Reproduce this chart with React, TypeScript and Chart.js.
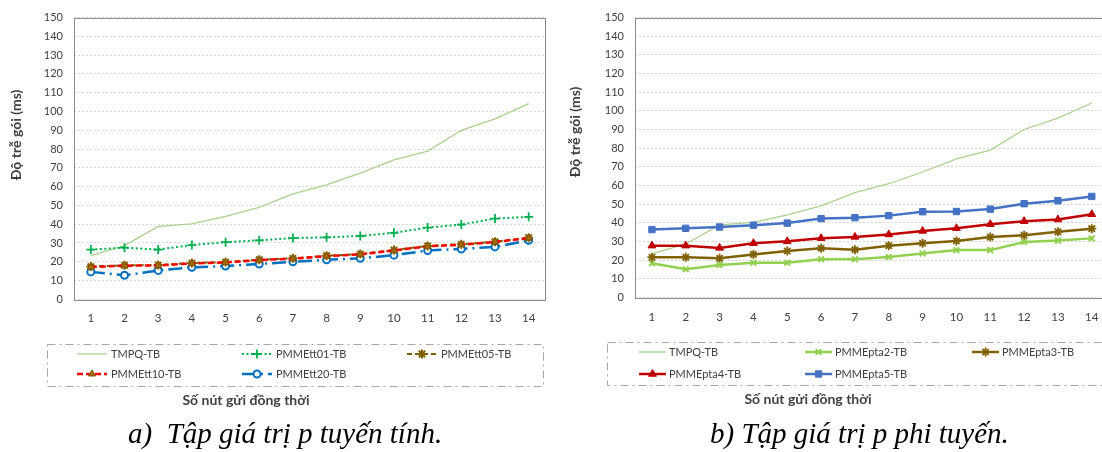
import React, { useEffect, useRef } from 'react';
import { Chart, registerables } from 'chart.js';
import { drawPoint } from 'chart.js/helpers';

Chart.register(...registerables);

// ---------- DATA ----------
const categories = ['1', '2', '3', '4', '5', '6', '7', '8', '9', '10', '11', '12', '13', '14'];
const yMin = 0;
const yMax = 150;
const yStep = 10;

const tmpqTB = [23.3, 28.6, 38.8, 40.2, 44.2, 49.0, 56.1, 60.9, 67.2, 74.2, 78.9, 90.0, 96.1, 104.2];

const pmmett01TB = [26.5, 27.5, 26.5, 28.9, 30.4, 31.4, 32.6, 33.0, 33.7, 35.4, 38.2, 39.8, 43.0, 43.9];
const pmmett05TB = [17.4, 18.1, 18.2, 19.3, 19.8, 21.1, 21.8, 23.2, 24.1, 26.2, 28.4, 29.3, 30.7, 32.8];
const pmmett10TB = [17.2, 17.9, 18.0, 19.1, 19.6, 20.9, 21.6, 23.0, 23.9, 26.0, 28.2, 29.1, 30.5, 32.6];
const pmmett20TB = [14.6, 12.8, 15.4, 17.0, 17.7, 18.8, 20.0, 21.0, 21.8, 23.5, 26.0, 26.8, 27.9, 31.4];

const pmmepta2TB = [18.3, 15.0, 17.3, 18.5, 18.5, 20.4, 20.4, 21.6, 23.5, 25.3, 25.3, 29.7, 30.4, 31.6];
const pmmepta3TB = [21.5, 21.5, 20.9, 23.0, 24.8, 26.3, 25.5, 27.7, 29.0, 30.2, 32.3, 33.3, 35.1, 36.8];
const pmmepta4TB = [27.7, 27.7, 26.5, 29.0, 30.0, 31.7, 32.4, 33.7, 35.6, 37.0, 39.2, 40.8, 41.7, 44.5];
const pmmepta5TB = [36.3, 37.0, 37.7, 38.7, 39.8, 42.2, 42.7, 43.8, 45.9, 46.0, 47.3, 50.2, 51.8, 54.1];

const labelsA = ['TMPQ-TB', 'PMMEtt01-TB', 'PMMEtt05-TB', 'PMMEtt10-TB', 'PMMEtt20-TB'];
const labelsB = ['TMPQ-TB', 'PMMEpta2-TB', 'PMMEpta3-TB', 'PMMEpta4-TB', 'PMMEpta5-TB'];

const yAxisTitle = 'Độ trễ gói (ms)';
const xAxisTitle = 'Số nút gửi đồng thời';
const captionA = 'a)  Tập giá trị p tuyến tính.';
const captionB = 'b) Tập giá trị p phi tuyến.';

// ---------- STYLES ----------
const TEXT = '#404040';
const FONT = 'Lato, "Open Sans", sans-serif';

function ds(label: string, data: number[], s: any) {
  return {
    label,
    data,
    borderColor: s.color,
    backgroundColor: s.color,
    borderWidth: s.width,
    borderDash: s.dash || [],
    pointStyle: s.point || 'circle',
    pointRadius: s.radius || 0,
    pointHoverRadius: s.radius || 0,
    pointBackgroundColor: s.pointBg || s.color,
    pointBorderColor: s.pointBorder || s.color,
    pointBorderWidth: s.pointBorderWidth || 1,
    tension: 0,
    fill: false,
    order: s.order ?? 0,
  };
}

const decorPlugin = {
  id: 'decor',
  beforeDatasetsDraw(chart: any) {
    const ctx = chart.ctx;
    const a = chart.chartArea;
    ctx.save();
    ctx.strokeStyle = '#8c8c8c';
    ctx.lineWidth = 1;
    ctx.setLineDash([]);
    ctx.strokeRect(Math.round(a.left) + 0.5, Math.round(a.top) + 0.5, Math.round(a.right - a.left) - 1, Math.round(a.bottom - a.top));
    ctx.restore();
  },
  afterDraw(chart: any, _args: any, o: any) {
    const ctx = chart.ctx;
    ctx.save();
    // y title
    ctx.font = `bold 14px ${FONT}`;
    ctx.fillStyle = TEXT;
    ctx.textAlign = 'center';
    ctx.textBaseline = 'middle';
    ctx.save();
    ctx.translate(o.yTitle.x, o.yTitle.y);
    ctx.rotate(-Math.PI / 2);
    ctx.fillText(yAxisTitle, 0, 0);
    ctx.restore();
    // x title
    ctx.fillText(xAxisTitle, o.xTitle.x, o.xTitle.y);
    // legend box
    ctx.strokeStyle = '#a6a6a6';
    ctx.lineWidth = 1;
    ctx.setLineDash([8, 4, 2, 4]);
    ctx.strokeRect(o.box.x + 0.5, o.box.y + 0.5, o.box.w, o.box.h);
    // legend items
    const dsets = chart.data.datasets;
    o.items.forEach((it: any, i: number) => {
      const d = dsets[i];
      const x0 = it.x;
      const x1 = it.x + o.sampleLen;
      ctx.save();
      ctx.strokeStyle = d.borderColor;
      ctx.lineWidth = d.borderWidth;
      ctx.setLineDash(d.borderDash || []);
      ctx.beginPath();
      ctx.moveTo(x0, it.y);
      ctx.lineTo(x1, it.y);
      ctx.stroke();
      if (d.pointRadius > 0) {
        ctx.setLineDash([]);
        ctx.fillStyle = d.pointBackgroundColor;
        ctx.strokeStyle = d.pointBorderColor;
        ctx.lineWidth = d.pointBorderWidth;
        drawPoint(ctx, { pointStyle: d.pointStyle, radius: d.pointRadius, borderWidth: d.pointBorderWidth, rotation: 0 } as any, (x0 + x1) / 2, it.y);
      }
      ctx.restore();
      ctx.font = `11px ${FONT}`;
      ctx.fillStyle = TEXT;
      ctx.textAlign = 'left';
      ctx.textBaseline = 'middle';
      ctx.fillText(d.label, x1 + o.gap, it.y);
    });
    ctx.restore();
  },
};

function Panel(props: any) {
  const ref = useRef<HTMLCanvasElement>(null);
  useEffect(() => {
    const { datasets, decor, padTop, padRight, plotLeft, plotBottom, tickPadX } = props;
    const chart = new Chart(ref.current as HTMLCanvasElement, {
      type: 'line',
      data: { labels: categories, datasets },
      options: {
        animation: false,
        responsive: true,
        maintainAspectRatio: false,
        layout: { padding: { top: padTop, right: padRight, bottom: 0, left: 0 } },
        plugins: { legend: { display: false }, tooltip: { enabled: false }, decor } as any,
        scales: {
          x: {
            type: 'category',
            offset: true,
            grid: { display: false, drawTicks: false },
            border: { display: false },
            ticks: { color: TEXT, font: { family: FONT, size: 11.5 }, padding: tickPadX, maxRotation: 0, autoSkip: false },
            afterFit: (s: any) => { s.height = 452 - plotBottom; },
          },
          y: {
            min: yMin,
            max: yMax,
            grid: { color: '#d9d9d9', drawTicks: false, lineWidth: 1 },
            border: { display: false, dash: [2, 2] },
            ticks: { stepSize: yStep, color: TEXT, font: { family: FONT, size: 11 }, padding: 11 },
            afterFit: (s: any) => { s.width = plotLeft; },
          },
        },
      } as any,
      plugins: [decorPlugin as any],
    });
    return () => chart.destroy();
  }, []);
  return (
    <div style={{ position: 'absolute', left: props.left, top: 0, width: props.width, height: 452 }}>
      <canvas ref={ref} />
    </div>
  );
}

export default function App() {
  const datasetsA = [
    ds(labelsA[0], tmpqTB, { color: '#a9d18e', width: 1.3, order: 5 }),
    ds(labelsA[1], pmmett01TB, { color: '#00b050', width: 2, dash: [2, 2.5], point: 'cross', radius: 4.5, pointBorderWidth: 1.8, order: 4 }),
    ds(labelsA[2], pmmett05TB, { color: '#7f6000', width: 2, dash: [5, 3], point: 'star', radius: 4.5, pointBorderWidth: 2, order: 2 }),
    ds(labelsA[3], pmmett10TB, { color: '#ff0000', width: 2.5, dash: [6, 3], point: 'triangle', radius: 4, pointBg: '#a66c00', pointBorder: '#7f5200', pointBorderWidth: 1, order: 1 }),
    ds(labelsA[4], pmmett20TB, { color: '#0070c0', width: 2.5, dash: [14, 5, 2, 5], point: 'circle', radius: 3.5, pointBg: '#ffffff', pointBorderWidth: 2, order: 3 }),
  ];
  const datasetsB = [
    ds(labelsB[0], tmpqTB, { color: '#a9d18e', width: 1.3, order: 5 }),
    ds(labelsB[1], pmmepta2TB, { color: '#92d050', width: 2.5, point: 'crossRot', radius: 4, pointBorderWidth: 2, order: 4 }),
    ds(labelsB[2], pmmepta3TB, { color: '#806000', width: 2.5, point: 'star', radius: 4.5, pointBorderWidth: 1.8, order: 3 }),
    ds(labelsB[3], pmmepta4TB, { color: '#c00000', width: 2.5, point: 'triangle', radius: 4.5, pointBorderWidth: 1, order: 2 }),
    ds(labelsB[4], pmmepta5TB, { color: '#4472c4', width: 2.5, point: 'rect', radius: 4.5, pointBorderWidth: 1, order: 1 }),
  ];

  const decorA = {
    yTitle: { x: 16, y: 135 },
    xTitle: { x: 246, y: 400 },
    box: { x: 47, y: 344, w: 496, h: 42 },
    items: [
      { x: 77, y: 354 }, { x: 242, y: 354 }, { x: 407, y: 354 },
      { x: 77, y: 374 }, { x: 242, y: 374 },
    ],
    sampleLen: 30,
    gap: 4,
  };
  const off = 550;
  const decorB = {
    yTitle: { x: 575 - off, y: 132 },
    xTitle: { x: 808 - off, y: 399 },
    box: { x: 607 - off, y: 342, w: 520, h: 43 },
    items: [
      { x: 639 - off, y: 352 }, { x: 805 - off, y: 352 }, { x: 972 - off, y: 352 },
      { x: 639 - off, y: 374 }, { x: 805 - off, y: 374 },
    ],
    sampleLen: 27,
    gap: 3,
  };

  const capStyle: React.CSSProperties = {
    position: 'absolute',
    top: 419,
    fontFamily: '"Liberation Serif", "Times New Roman", serif',
    fontStyle: 'italic',
    fontSize: 29,
    lineHeight: '29px',
    whiteSpace: 'pre',
    color: '#000',
  };

  return (
    <div style={{ position: 'absolute', left: 0, top: 0, width: 1102, height: 452, overflow: 'hidden', background: '#fff' }}>
      <Panel left={0} width={552} datasets={datasetsA} decor={decorA} padTop={14} padRight={2} plotLeft={74} plotBottom={299.3} tickPadX={12} />
      <Panel left={550} width={565} datasets={datasetsB} decor={decorB} padTop={10.7} padRight={3} plotLeft={85} plotBottom={297.3} tickPadX={13} />
      <div style={{ ...capStyle, left: 128 }}>{captionA}</div>
      <div style={{ ...capStyle, left: 710 }}>{captionB}</div>
    </div>
  );
}
